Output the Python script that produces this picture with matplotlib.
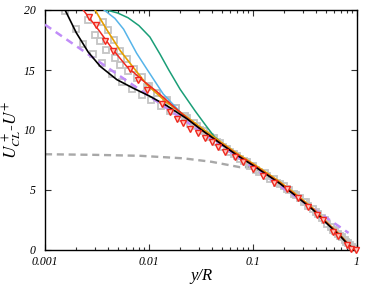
import numpy as np
import matplotlib
matplotlib.use("Agg")
import matplotlib.pyplot as plt
from matplotlib.ticker import LogLocator, NullFormatter, FixedLocator

plt.rcParams['mathtext.fontset'] = 'stix'
plt.rcParams['font.family'] = ['Liberation Serif', 'DejaVu Serif']

# ---- data ----
x_ticks = [0.001, 0.01, 0.1, 1]
x_ticklabels = ['0.001', '0.01', '0.1', '1']
y_ticks = [0, 5, 10, 15, 20]
y_ticklabels = ['0', '5', '10', '15', '20']

# log-law (purple dashed)
loglaw_x = [0.001, 0.83]
loglaw_y = [18.78, 1.42]

# gray dashed
gdash_x = [0.001, 0.003, 0.0082, 0.0214, 0.04, 0.075, 0.1, 0.18, 0.38, 0.6, 0.8, 1.0]
gdash_y = [7.98, 7.93, 7.85, 7.64, 7.35, 6.9, 6.9, 5.5, 3.25, 1.65, 0.5, 0.0]

# black (highest Re)
black_x = [0.00156, 0.002, 0.0026, 0.0034, 0.0049, 0.007, 0.01, 0.015, 0.023, 0.031, 0.05, 0.07, 0.1,
           0.14, 0.18, 0.25, 0.38, 0.5, 0.6, 0.7, 0.8, 0.9, 1.0]
black_y = [20.0, 18.1, 16.5, 15.3, 14.2, 13.5, 12.85, 12.0, 10.95, 10.1, 8.8, 7.9, 7.05,
           6.2, 5.56, 4.6, 3.33, 2.3, 1.65, 1.1, 0.56, 0.15, 0.0]

# red line
red_x = [0.00233, 0.0033, 0.0044, 0.0061, 0.0088, 0.0119, 0.017, 0.025, 0.035, 0.05, 0.07, 0.1,
         0.14, 0.18, 0.25, 0.38, 0.5, 0.6, 0.7, 0.8, 0.9, 1.0]
red_y = [20.0, 18.3, 16.8, 15.3, 14.1, 13.2, 12.0, 10.75, 9.75, 8.85, 7.95, 7.1,
         6.25, 5.6, 4.65, 3.38, 2.35, 1.7, 1.15, 0.6, 0.18, 0.0]

# orange line
orange_x = [0.00303, 0.0039, 0.0053, 0.0068, 0.0095, 0.0148, 0.023, 0.03, 0.04, 0.05, 0.07, 0.1,
            0.14, 0.18, 0.25, 0.38, 0.5, 0.6, 0.7, 0.8, 0.9, 1.0]
orange_y = [20.0, 18.4, 16.6, 15.4, 13.8, 12.3, 11.1, 10.35, 9.55, 8.95, 8.05, 7.2,
            6.35, 5.7, 4.75, 3.45, 2.4, 1.75, 1.18, 0.62, 0.2, 0.0]

# cyan line
cyan_x = [0.0037, 0.0047, 0.0057, 0.0076, 0.0095, 0.0137, 0.02, 0.028, 0.04, 0.05, 0.07, 0.1,
          0.14, 0.18, 0.25, 0.38, 0.5, 0.6, 0.7, 0.8, 0.9, 1.0]
cyan_y = [20.0, 19.3, 18.4, 16.4, 15.1, 13.0, 11.5, 10.4, 9.45, 8.85, 7.95, 7.1,
          6.25, 5.6, 4.65, 3.38, 2.35, 1.7, 1.15, 0.6, 0.18, 0.0]

# green line
green_x = [0.0039, 0.005, 0.0063, 0.008, 0.0102, 0.0128, 0.0155, 0.0199, 0.0277, 0.035, 0.042, 0.05,
           0.07, 0.1, 0.14, 0.18, 0.25, 0.38, 0.5, 0.6, 0.7, 0.8, 0.9, 1.0]
green_y = [20.0, 19.75, 19.35, 18.7, 17.75, 16.3, 15.0, 13.4, 11.6, 10.4, 9.5, 8.9,
           7.95, 7.1, 6.25, 5.6, 4.65, 3.38, 2.35, 1.7, 1.15, 0.6, 0.18, 0.0]

# red triangles
tri_x = [0.00267, 0.0031, 0.0038, 0.0045, 0.0066, 0.0078, 0.0095, 0.0132, 0.0159, 0.0185, 0.0214,
         0.0248, 0.0297, 0.0345, 0.0401, 0.0464, 0.0537, 0.067, 0.08, 0.1, 0.125, 0.16, 0.21,
         0.27, 0.34, 0.41, 0.47, 0.59, 0.66, 0.8, 0.88, 0.97]
tri_y = [19.4, 18.75, 17.4, 16.6, 15.1, 14.2, 13.3, 12.2, 11.5, 10.95, 10.55,
         10.1, 9.75, 9.3, 9.0, 8.6, 8.2, 7.75, 7.3, 6.75, 6.2, 5.6, 5.1,
         4.3, 3.6, 2.95, 2.5, 1.5, 1.2, 0.45, 0.1, 0.0]

# gray squares: three data sets
sq1_x = [0.00156, 0.0020, 0.0023, 0.0029, 0.0035, 0.0044, 0.0055, 0.0068, 0.0085, 0.0105, 0.013,
         0.016, 0.02, 0.025, 0.031, 0.039, 0.048, 0.06, 0.075, 0.093, 0.115, 0.145, 0.18, 0.22,
         0.28, 0.34, 0.42, 0.52, 0.62, 0.72, 0.82, 0.9, 0.97]
sq1_y = [19.9, 18.4, 17.2, 16.3, 15.6, 14.7, 14.0, 13.4, 12.9, 12.5, 12.0,
         11.6, 11.0, 10.5, 10.0, 9.4, 8.9, 8.2, 7.6, 7.0, 6.5, 5.9, 5.5, 5.0,
         4.3, 3.7, 3.0, 2.2, 1.6, 1.1, 0.55, 0.2, 0.05]
sq2_x = [0.0026, 0.0030, 0.0034, 0.0039, 0.0047, 0.0053, 0.0063, 0.0076, 0.0095, 0.0119, 0.0148,
         0.018, 0.022, 0.027, 0.034, 0.042, 0.052, 0.065, 0.082, 0.1, 0.13, 0.16, 0.2, 0.25,
         0.31, 0.38, 0.46, 0.56, 0.66, 0.76, 0.86, 0.94]
sq2_y = [19.2, 17.9, 17.4, 16.7, 16.0, 15.4, 14.9, 14.3, 13.6, 13.1, 12.5,
         11.8, 11.2, 10.6, 9.9, 9.3, 8.6, 8.0, 7.4, 7.0, 6.4, 5.9, 5.3, 4.7,
         4.0, 3.4, 2.7, 1.95, 1.35, 0.85, 0.4, 0.1]
sq3_x = [0.0036, 0.0040, 0.0046, 0.0053, 0.0062, 0.0072, 0.0085, 0.010, 0.012, 0.0145, 0.018,
         0.023, 0.029, 0.036, 0.045, 0.056, 0.07, 0.087, 0.108, 0.135, 0.17, 0.21, 0.26, 0.32,
         0.4, 0.49, 0.59, 0.69, 0.79, 0.89, 0.98]
sq3_y = [19.0, 18.3, 17.5, 16.6, 15.9, 15.1, 14.4, 13.7, 13.1, 12.4, 11.8,
         11.0, 10.3, 9.6, 9.0, 8.4, 7.8, 7.3, 6.7, 6.2, 5.6, 5.1, 4.6, 4.0,
         3.2, 2.5, 1.7, 1.2, 0.7, 0.25, 0.0]

# ---- figure ----
fig = plt.figure(figsize=(3.82, 2.85), dpi=100)
ax = fig.add_axes([45/382, 35/285, 312/382, 240/285])

sqc = '#c4c4c4'
for sx, sy in [(sq1_x, sq1_y), (sq2_x, sq2_y), (sq3_x, sq3_y)]:
    ax.plot(sx, sy, ls='none', marker='s', ms=4.6, mfc='none', mec=sqc, mew=1.3, zorder=2)

ax.plot(gdash_x, gdash_y, color='#a8a8a8', lw=1.7, dashes=(3.0, 2.0), zorder=1)
ax.plot(loglaw_x, loglaw_y, color='#c08cf8', lw=1.8, dashes=(3.0, 2.2), zorder=3)

ax.plot(green_x, green_y, color='#1a9e77', lw=1.1, zorder=4)
ax.plot(cyan_x, cyan_y, color='#56b4e9', lw=1.1, zorder=4)
ax.plot(orange_x, orange_y, color='#e69f00', lw=1.2, zorder=5)
ax.plot(red_x, red_y, color='#f0281e', lw=1.1, zorder=5)
ax.plot(black_x, black_y, color='black', lw=1.2, zorder=6)
ax.plot(tri_x, tri_y, ls='none', marker='v', ms=4.8, mfc='#ffc8c0', mec='#f0281e', mew=1.0,
        zorder=7, clip_on=False)

ax.set_xscale('log')
ax.set_xlim(0.001, 1)
ax.set_ylim(0, 20)

ax.xaxis.set_major_locator(FixedLocator(x_ticks))
ax.set_xticklabels(x_ticklabels)
ax.xaxis.set_minor_locator(LogLocator(base=10, subs=np.arange(2, 10)))
ax.xaxis.set_minor_formatter(NullFormatter())
ax.set_yticks(y_ticks)
ax.set_yticklabels(y_ticklabels)

ax.tick_params(which='both', direction='in', top=True, right=True, width=0.8, colors='#333333',
               labelcolor='black')
ax.tick_params(which='major', length=4)
ax.tick_params(which='minor', length=2.2)
ax.tick_params(axis='x', pad=4)
ax.tick_params(axis='y', pad=7)
for lab in ax.get_xticklabels() + ax.get_yticklabels():
    lab.set_fontstyle('italic')
    lab.set_fontsize(8.5)

for s in ax.spines.values():
    s.set_linewidth(1.0)

ax.set_xlabel('y/R', fontsize=12, fontstyle='italic', labelpad=0)
ax.set_ylabel(r'$U_{CL}^{\,+}$-$U^{+}$', fontsize=12.5)
ax.yaxis.set_label_coords(-0.068, 0.5)

fig.savefig('out.png', dpi=100)
